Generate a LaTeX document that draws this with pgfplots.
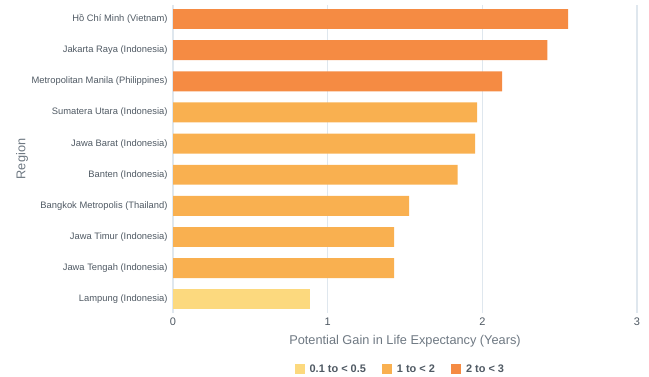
\documentclass[border=0pt]{standalone}
\usepackage{fontspec}
\setmainfont{Liberation Sans}
\usepackage{pgfplots}
\pgfplotsset{compat=1.18}
\definecolor{cdark}{HTML}{F58B43}
\definecolor{cmid}{HTML}{F9B050}
\definecolor{clight}{HTML}{FCD97E}
\definecolor{gridc}{HTML}{DFE7EE}
\definecolor{txt}{HTML}{4F5963}
\definecolor{lbl}{HTML}{6E7882}
\begin{document}
\begin{tikzpicture}
\useasboundingbox (0,0) rectangle (649bp,-377bp);
\begin{axis}[
  at={(173bp,-313bp)}, anchor=south west,
  scale only axis, width=464bp, height=308bp,
  xbar, bar width=0.64, bar shift=0pt,
  xmin=0, xmax=3, ymin=-0.44, ymax=9.45,
  xtick={0,1,2,3},
  ytick={0,...,9},
  yticklabels={Lampung (Indonesia),Jawa Tengah (Indonesia),Jawa Timur (Indonesia),Bangkok Metropolis (Thailand),Banten (Indonesia),Jawa Barat (Indonesia),Sumatera Utara (Indonesia),Metropolitan Manila (Philippines),Jakarta Raya (Indonesia),Hồ Chí Minh (Vietnam)},
  axis line style={draw=none},
  major tick length=0pt,
  xmajorgrids, grid style={gridc, line width=1.3bp},
  /pgf/number format/assume math mode=true,
  yticklabel style={font=\fontsize{9.4}{11}\selectfont, text=txt, xshift=-2bp},
  xticklabel style={font=\fontsize{11}{13}\selectfont, text=txt, yshift=-1bp},
  xlabel={Potential Gain in Life Expectancy (Years)},
  ylabel={Region},
  xlabel style={font=\fontsize{12.8}{14}\selectfont, text=lbl, at={(axis description cs:0.5,-0.091)}, anchor=center},
  ylabel style={font=\fontsize{12.8}{14}\selectfont, text=lbl, at={(axis description cs:-0.325,0.5)}, anchor=center},
  legend columns=3,
  legend style={draw=none, fill=none, at={(axis description cs:0.49,-0.182)}, anchor=center,
    font=\fontsize{11}{13}\selectfont\bfseries, text=txt,
    /tikz/every odd column/.append style={column sep=3bp},
    /tikz/every even column/.append style={column sep=14bp}},
  legend image code/.code={\fill[#1] (0bp,-5bp) rectangle (10bp,5bp);},
]
\addplot[fill=clight, draw=none] coordinates {(0.886,0)};
\addplot[fill=cmid, draw=none] coordinates {(1.43,1) (1.43,2) (1.527,3) (1.84,4) (1.953,5) (1.966,6)};
\addplot[fill=cdark, draw=none] coordinates {(2.128,7) (2.42,8) (2.555,9)};
\legend{0.1 to < 0.5, 1 to < 2, 2 to < 3}
\end{axis}
\end{tikzpicture}
\end{document}
